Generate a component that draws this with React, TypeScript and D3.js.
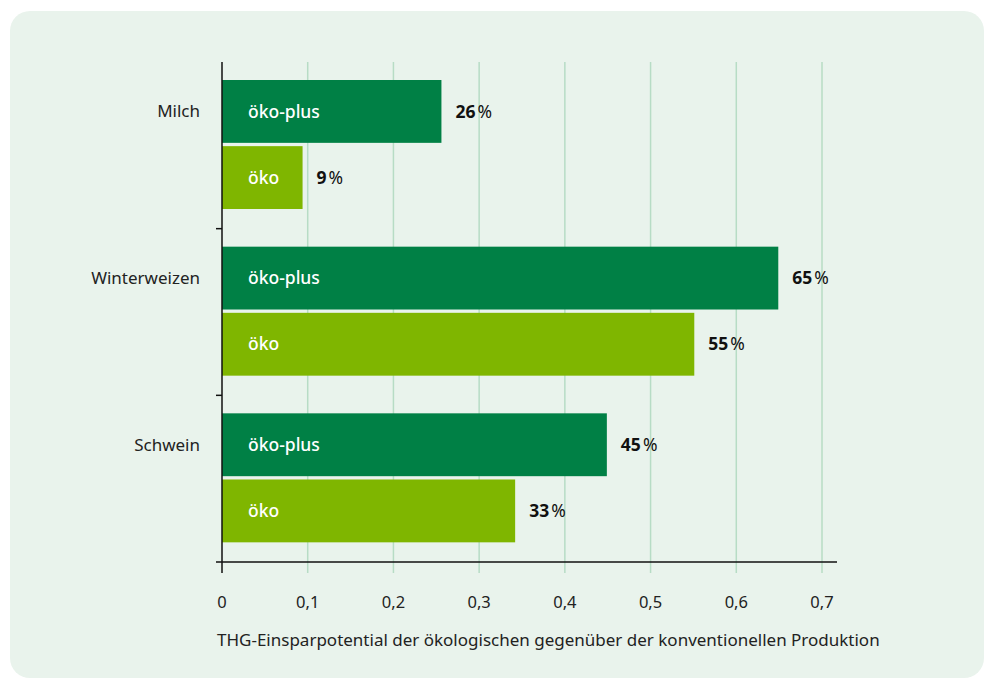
import React, { useEffect, useRef } from "react";
import * as d3 from "d3";

const categories = ["Milch", "Winterweizen", "Schwein"];
const series = ["öko-plus", "öko"];
const oekoPlus = [0.256, 0.649, 0.449];
const oeko = [0.094, 0.551, 0.342];
const oekoPlusLabels = ["26", "65", "45"];
const oekoLabels = ["9", "55", "33"];
const ticks = [0, 0.1, 0.2, 0.3, 0.4, 0.5, 0.6, 0.7];
const axisTitle = "THG-Einsparpotential der ökologischen gegenüber der konventionellen Produktion";

const colors: Record<string, string> = { "öko-plus": "#008045", "öko": "#7fb600" };
const font = "'Noto Sans', sans-serif";

function App() {
  const ref = useRef<SVGSVGElement | null>(null);

  useEffect(() => {
    const svg = d3.select(ref.current);
    svg.selectAll("*").remove();

    svg.append("rect").attr("x", 10).attr("y", 11).attr("width", 974).attr("height", 667)
      .attr("rx", 20).attr("fill", "#e9f3ec");

    const x = d3.scaleLinear().domain([0, 0.7]).range([222, 822]);
    const y = d3.scaleBand<string>().domain(categories).range([62, 562]);
    const inner = d3.scaleBand<string>().domain(series).range([18, 147]).paddingInner(0.05);

    const rows = categories.flatMap((c, i) => [
      { cat: c, s: "öko-plus", v: oekoPlus[i], lab: oekoPlusLabels[i] },
      { cat: c, s: "öko", v: oeko[i], lab: oekoLabels[i] },
    ]);

    // grid
    svg.append("g").selectAll("line").data(ticks.slice(1)).join("line")
      .attr("x1", d => x(d)).attr("x2", d => x(d))
      .attr("y1", 62).attr("y2", 573)
      .attr("stroke", "#b7dcc5").attr("stroke-width", 1.5);

    // bars
    const g = svg.append("g");
    g.selectAll("rect").data(rows).join("rect")
      .attr("x", x(0)).attr("y", d => y(d.cat)! + inner(d.s)!)
      .attr("width", d => x(d.v) - x(0)).attr("height", inner.bandwidth())
      .attr("fill", d => colors[d.s]);

    g.selectAll("text.name").data(rows).join("text").attr("class", "name")
      .attr("x", 248).attr("y", d => y(d.cat)! + inner(d.s)! + inner.bandwidth() / 2)
      .attr("dy", "0.35em").attr("fill", "#fff").attr("font-size", 17.5).attr("font-weight", 500)
      .attr("font-family", font).text(d => d.s);

    const vt = g.selectAll("text.val").data(rows).join("text").attr("class", "val")
      .attr("x", d => x(d.v) + 14).attr("y", d => y(d.cat)! + inner(d.s)! + inner.bandwidth() / 2)
      .attr("dy", "0.35em").attr("fill", "#111").attr("font-size", 17.5).attr("font-family", font);
    vt.append("tspan").attr("font-weight", 700).text(d => d.lab);
    vt.append("tspan").attr("dx", 2).attr("font-weight", 400).text("%");

    // category labels
    svg.append("g").selectAll("text").data(categories).join("text")
      .attr("x", 200).attr("y", d => y(d)! + inner("öko-plus")! + inner.bandwidth() / 2)
      .attr("dy", "0.35em").attr("text-anchor", "end").attr("fill", "#222")
      .attr("font-size", 17).attr("font-family", font).text(d => d);

    // axes
    svg.append("line").attr("x1", x(0)).attr("x2", x(0)).attr("y1", 62).attr("y2", 573)
      .attr("stroke", "#111").attr("stroke-width", 1.5);
    svg.append("line").attr("x1", 216).attr("x2", 837).attr("y1", 562).attr("y2", 562)
      .attr("stroke", "#111").attr("stroke-width", 1.5);
    svg.append("g").selectAll("line").data(categories.slice(1)).join("line")
      .attr("x1", 216).attr("x2", x(0)).attr("y1", d => y(d)!).attr("y2", d => y(d)!)
      .attr("stroke", "#111").attr("stroke-width", 1.5);

    svg.append("g").selectAll("text").data(ticks).join("text")
      .attr("x", d => x(d)).attr("y", 602).attr("dy", "0.35em").attr("text-anchor", "middle")
      .attr("fill", "#222").attr("font-size", 16.5).attr("font-family", font)
      .text(d => (d === 0 ? "0" : d3.format(".1f")(d).replace(".", ",")));

    svg.append("text").attr("x", 217).attr("y", 640).attr("dy", "0.35em")
      .attr("fill", "#222").attr("font-size", 17).attr("font-family", font).text(axisTitle);
  }, []);

  return (
    <svg ref={ref} width={984} height={678} style={{ position: "absolute", left: 0, top: 0 }} />
  );
}

export default App;
